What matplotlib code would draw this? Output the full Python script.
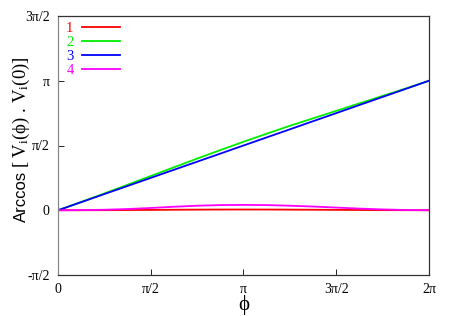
import numpy as np
import matplotlib
matplotlib.use("Agg")
import matplotlib.pyplot as plt

plt.rcParams["mathtext.fontset"] = "custom"
plt.rcParams["mathtext.rm"] = "Liberation Serif"
plt.rcParams["mathtext.it"] = "Liberation Serif:italic"

PI = np.pi
phi = [0.0, 0.3927, 0.7854, 1.1781, 1.5708, 1.9635, 2.3562, 2.7489, 3.1416,
       3.5343, 3.9270, 4.3197, 4.7124, 5.1051, 5.4978, 5.8905, 6.2832]
s1 = [0.0, 0.0, 0.002, 0.005, 0.008, 0.012, 0.015, 0.017, 0.018,
      0.017, 0.015, 0.012, 0.009, 0.006, 0.003, 0.001, 0.0]
s2 = [0.0, 0.201, 0.408, 0.619, 0.830, 1.042, 1.253, 1.459, 1.661,
      1.857, 2.048, 2.230, 2.411, 2.593, 2.774, 2.955, 3.142]
s3 = [0.0, 0.196, 0.393, 0.589, 0.785, 0.982, 1.178, 1.374, 1.571,
      1.767, 1.963, 2.160, 2.356, 2.553, 2.749, 2.945, 3.142]
s4 = [0.0, 0.003, 0.012, 0.030, 0.055, 0.085, 0.110, 0.125, 0.130,
      0.125, 0.110, 0.090, 0.065, 0.040, 0.020, 0.006, 0.0]
labels = ["1", "2", "3", "4"]
colors = ["#ff0000", "#00ee00", "#0000ff", "#ff00ff"]
xticks = [0, PI/2, PI, 3*PI/2, 2*PI]
xticklabels = ["0", "π/2", "π", "3π/2", "2π"]
yticks = [-PI/2, 0, PI/2, PI, 3*PI/2]
yticklabels = ["-π/2", "0", "π/2", "π", "3π/2"]

W, H = 452, 316
fig = plt.figure(figsize=(W/100, H/100), dpi=100)
ax = fig.add_axes([58/W, 1-275/H, (429-58)/W, (275-16)/H])

for s, lab, c in zip([s1, s2, s3, s4], labels, colors):
    ax.plot(phi, s, color=c, lw=1.3, label=lab)

ax.set_xlim(0, 2*PI)
ax.set_ylim(-PI/2, 3*PI/2)
ax.set_xticks(xticks)
ax.set_xticklabels(xticklabels, family="Liberation Serif", fontsize=10)
ax.set_yticks(yticks)
ax.set_yticklabels(yticklabels, family="Liberation Serif", fontsize=10)
ax.tick_params(direction="in", length=4, width=0.6, pad=6)
for sp in ax.spines.values():
    sp.set_linewidth(0.9)
    sp.set_color("#333333")
ax.spines["left"].set_color("#888888")

ax.set_xlabel("ϕ", family=["Liberation Serif", "DejaVu Serif"], fontsize=15, labelpad=-1)

# y label: sans "Arccos" followed by serif bracket expression
bx = 26/W
fig.text(bx, 1-222/H, "Arccos", family="Liberation Sans", fontsize=12,
         rotation=90, rotation_mode="anchor", ha="left", va="baseline")
fig.text(bx, 1-168/H, "[ V$_\\mathrm{i}$(ϕ) . V$_\\mathrm{i}$(0)]",
         family=["Liberation Serif", "DejaVu Serif"], fontsize=13.5,
         rotation=90, rotation_mode="anchor", ha="left", va="baseline")

leg = ax.legend(loc="upper left", frameon=False, markerfirst=False,
                labelcolor="linecolor", prop={"family": "Liberation Serif", "size": 10.5},
                handlelength=2.6, handletextpad=0.55, labelspacing=0.05,
                borderaxespad=0.3, bbox_to_anchor=(-2/371, 1.0 + 4/259))

fig.savefig("out.png", dpi=100)
